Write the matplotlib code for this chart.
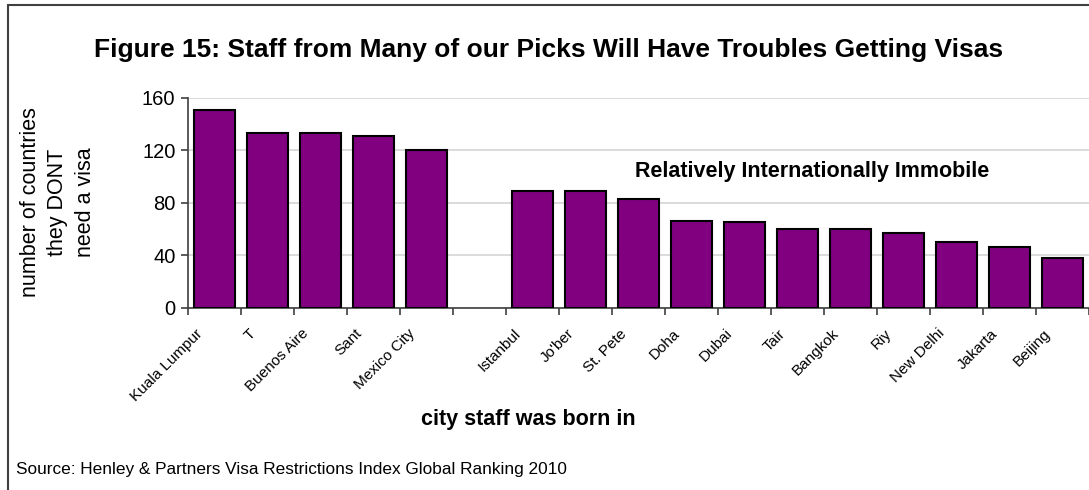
import matplotlib
matplotlib.use("Agg")
import matplotlib.pyplot as plt
import matplotlib.transforms as mtransforms
from matplotlib.patches import Rectangle

plt.rcParams['font.family'] = ['Liberation Sans', 'DejaVu Sans']

cities = ["Kuala Lumpur", "T", "Buenos Aire", "Sant", "Mexico City", "",
          "Istanbul", "Jo'ber", "St. Pete", "Doha", "Dubai", "Tair",
          "Bangkok", "Riy", "New Delhi", "Jakarta", "Beijing"]
values = [151, 133, 133, 131, 120, None,
          89, 89, 83, 66, 65, 60, 60, 57, 50, 46, 38]
yticks = [0, 40, 80, 120, 160]

W, H = 1089, 490
fig = plt.figure(figsize=(W / 100, H / 100), dpi=100)
ax = fig.add_axes([188 / W, 1 - 307.5 / H, (W - 188) / W, (307.5 - 97.7) / H])

xs = [i for i, v in enumerate(values) if v is not None]
vs = [v for v in values if v is not None]
ax.bar(xs, vs, width=0.76, color='#800080', edgecolor='black', linewidth=1.5, zorder=3)

ax.set_xlim(-0.5, len(cities) - 0.5)
ax.set_ylim(0, 160)
ax.set_yticks(yticks)
ax.set_yticklabels([str(t) for t in yticks], fontsize=14.5)
ax.yaxis.grid(True, color='#d4d4d4', linewidth=1.2, zorder=0)
ax.set_axisbelow(True)

# category labels (rotated), placed under each category slot
ax.set_xticks([i - 0.5 for i in range(len(cities) + 1)])
ax.set_xticklabels([])
ax.tick_params(axis='x', length=5, direction='out', color='#404040', width=1.2)
base = mtransforms.blended_transform_factory(ax.transData, ax.transAxes)
offset = mtransforms.ScaledTranslation(-9 / 100, -19 / 100, fig.dpi_scale_trans)
for i, name in enumerate(cities):
    ax.text(i, 0, name, transform=base + offset, rotation=45, ha='right', va='top',
            fontsize=11, clip_on=False)
ax.tick_params(axis='y', length=5, direction='out', color='#404040', width=1.2, pad=4)

for s in ['top', 'right']:
    ax.spines[s].set_visible(False)
for s in ['left', 'bottom']:
    ax.spines[s].set_color('#404040')
    ax.spines[s].set_linewidth(1.2)

ax.text(812 / W, 1 - 172 / H, "Relatively Internationally Immobile", transform=fig.transFigure,
        ha='center', va='center', fontsize=15.5, fontweight='bold')

fig.text(549 / W, 1 - 50 / H,
         "Figure 15: Staff from Many of our Picks Will Have Troubles Getting Visas",
         ha='center', va='center', fontsize=19, fontweight='bold')
fig.text(58 / W, 1 - 202 / H, "number of countries\nthey DONT\nneed a visa",
         rotation=90, ha='center', va='center', fontsize=15.5, linespacing=1.38)
fig.text(528 / W, 1 - 420 / H, "city staff was born in", ha='center', va='center',
         fontsize=15.5, fontweight='bold')
fig.text(16 / W, 1 - 469 / H,
         "Source: Henley & Partners Visa Restrictions Index Global Ranking 2010",
         ha='left', va='center', fontsize=12.4)

fig.patches.append(Rectangle((8 / W, -0.1), 1.2, 1 - 5 / H + 0.1, transform=fig.transFigure,
                             fill=False, edgecolor='#404040', linewidth=1.5))

fig.savefig("out.png", dpi=100)
